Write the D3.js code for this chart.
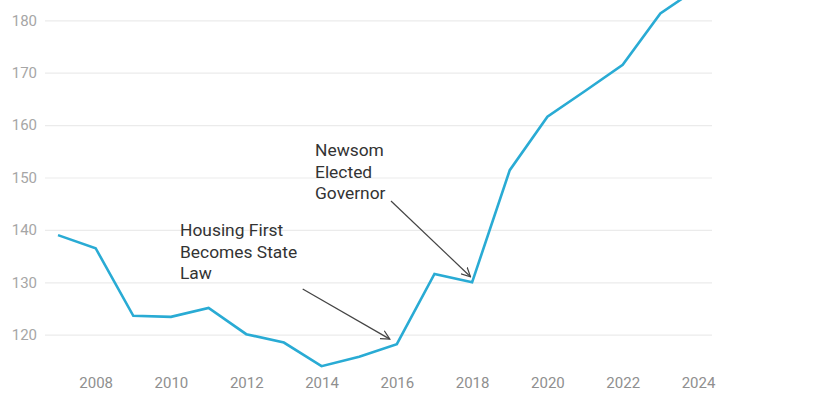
<!DOCTYPE html>
<html>
<head>
<meta charset="utf-8">
<script src="https://cdn.jsdelivr.net/npm/d3@7"></script>
<style>
  html, body { margin: 0; padding: 0; background: #fff; }
  svg { display: block; font-family: Roboto, "Noto Sans", sans-serif; }
</style>
</head>
<body>
<svg id="chart" width="820" height="394"></svg>
<script>
const years = [2007, 2008, 2009, 2010, 2011, 2012, 2013, 2014, 2015, 2016, 2017, 2018, 2019, 2020, 2021, 2022, 2023, 2024];
const values = [139.0, 136.5, 123.6, 123.4, 125.1, 120.1, 118.5, 114.0, 115.8, 118.2, 131.6, 130.0, 151.4, 161.6, 166.5, 171.5, 181.3, 186.2];
const yTicks = [120, 130, 140, 150, 160, 170, 180];
const xTicks = [2008, 2010, 2012, 2014, 2016, 2018, 2020, 2022, 2024];
const annotations = [
  { lines: ["Housing First", "Becomes State", "Law"], year: 2016, value: 118.2 },
  { lines: ["Newsom", "Elected", "Governor"], year: 2018, value: 130.0 }
];

const svg = d3.select("#chart");
const x = d3.scaleLinear().domain([2007, 2024]).range([58, 698]);
const y = d3.scaleLinear().domain([120, 180]).range([334.7, 20.3]);
const gridLeft = 45, gridRight = 712;

// Y axis with gridlines
const yAxis = svg.append("g")
  .attr("transform", `translate(${gridLeft},0)`)
  .call(d3.axisLeft(y).tickValues(yTicks).tickSize(-(gridRight - gridLeft)).tickPadding(8).tickFormat(d3.format("d")));
yAxis.select(".domain").remove();
yAxis.selectAll(".tick line").attr("stroke", "#ebebeb").attr("stroke-width", 1.2);
yAxis.selectAll(".tick text").attr("fill", "#a6a6a6").style("font-size", "15px").style("font-family", "Roboto, sans-serif");

// X axis
const xAxis = svg.append("g")
  .attr("transform", `translate(0,368)`)
  .call(d3.axisBottom(x).tickValues(xTicks).tickSize(0).tickPadding(9).tickFormat(d3.format("d")));
xAxis.select(".domain").remove();
xAxis.selectAll(".tick text").attr("fill", "#8f8f8f").style("font-size", "15px").style("font-family", "Roboto, sans-serif");

// Line
const line = d3.line().x((d, i) => x(years[i])).y(d => y(d));
svg.append("path")
  .datum(values)
  .attr("fill", "none")
  .attr("stroke", "#29abd4")
  .attr("stroke-width", 2.6)
  .attr("stroke-linejoin", "miter")
  .attr("d", line);

// Arrow marker
svg.append("defs").append("marker")
  .attr("id", "arrow")
  .attr("viewBox", "0 0 10 10")
  .attr("refX", 9).attr("refY", 5)
  .attr("markerWidth", 10).attr("markerHeight", 10)
  .attr("markerUnits", "userSpaceOnUse")
  .attr("orient", "auto")
  .append("path")
  .attr("d", "M0,0.5 L9,5 L0,9.5")
  .attr("fill", "none")
  .attr("stroke", "#444")
  .attr("stroke-width", 1.2);

// Annotations
const annPos = [
  { tx: 180, ty: 236, sx: 302.7, sy: 289, dx: -7, dy: -5 },
  { tx: 315, ty: 156, sx: 391, sy: 201, dx: -1.6, dy: -5.6 }
];
annotations.forEach((a, i) => {
  const p = annPos[i];
  const t = svg.append("text")
    .attr("x", p.tx).attr("y", p.ty)
    .attr("fill", "#333")
    .style("font-size", "17.4px");
  a.lines.forEach((l, j) => {
    t.append("tspan").attr("x", p.tx).attr("y", p.ty + j * 21.7).text(l);
  });
  svg.append("line")
    .attr("x1", p.sx).attr("y1", p.sy)
    .attr("x2", x(a.year) + p.dx).attr("y2", y(a.value) + p.dy)
    .attr("stroke", "#444")
    .attr("stroke-width", 1.2)
    .attr("marker-end", "url(#arrow)");
});
</script>
</body>
</html>
